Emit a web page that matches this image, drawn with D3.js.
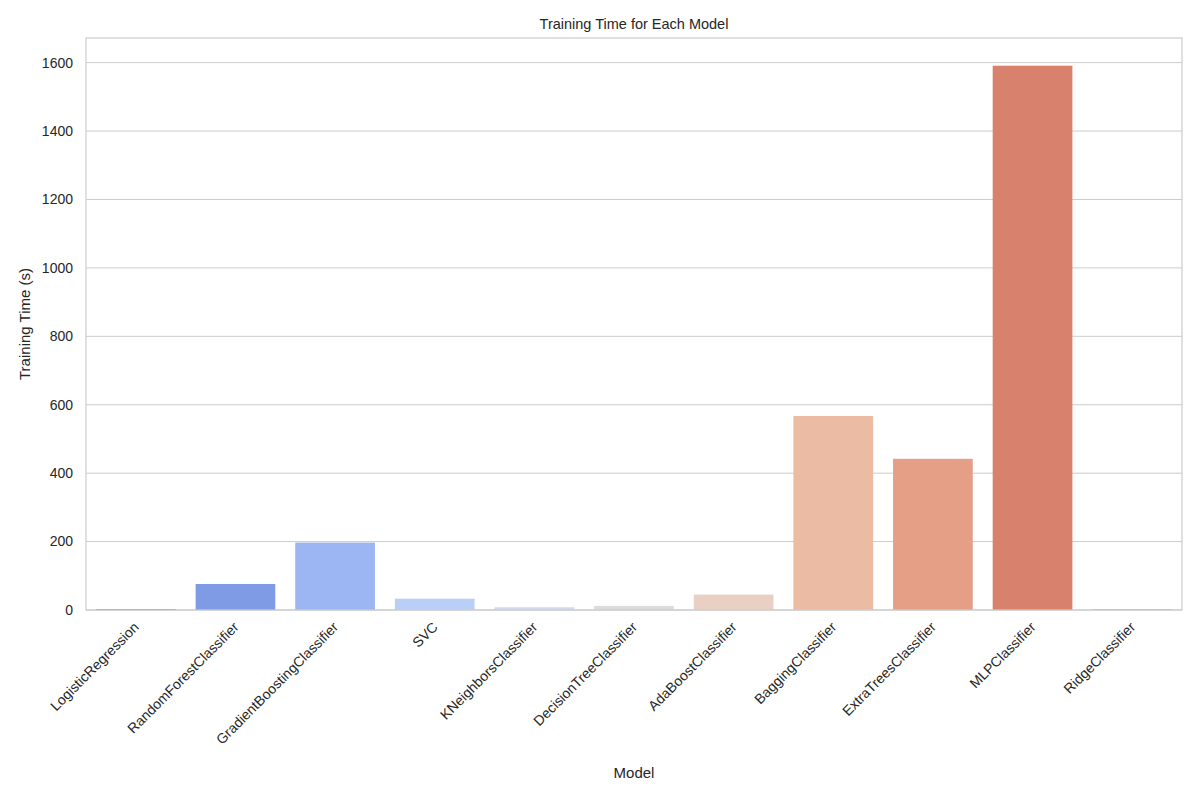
<!DOCTYPE html>
<html><head><meta charset="utf-8">
<script src="https://cdn.jsdelivr.net/npm/d3@7"></script>
<style>body{margin:0;background:#fff}text{font-family:"Liberation Sans",Arial,sans-serif;fill:#262626}</style>
</head><body><svg id="c" width="1200" height="800"></svg>
<script>
const models=["LogisticRegression","RandomForestClassifier","GradientBoostingClassifier","SVC","KNeighborsClassifier","DecisionTreeClassifier","AdaBoostClassifier","BaggingClassifier","ExtraTreesClassifier","MLPClassifier","RidgeClassifier"];
const times=[2,76,197,33,8,12,45,567,442,1591,1];
const colors=["#5b6fc4","#7f9be6","#9bb6f2","#b9cff5","#d0dbed","#dedcdb","#e9d0c3","#ecbba4","#e49f86","#d8816c","#c55a4a"];
const yTicks=[0,200,400,600,800,1000,1200,1400,1600];
const svg=d3.select("#c");
const m={l:86,r:1182,t:38,b:610};
const x=d3.scaleBand().domain(models).range([m.l,m.r]).paddingInner(0.2).paddingOuter(0.1);
const y=d3.scaleLinear().domain([0,1672]).range([m.b,m.t]);
svg.append("g").selectAll("line").data(yTicks).join("line")
 .attr("x1",m.l).attr("x2",m.r).attr("y1",d=>y(d)).attr("y2",d=>y(d)).attr("stroke","#cccccc").attr("stroke-width",1);
svg.append("g").selectAll("rect").data(models).join("rect")
 .attr("x",d=>x(d)).attr("width",x.bandwidth()).attr("y",(d,i)=>y(times[i])).attr("height",(d,i)=>m.b-y(times[i]))
 .attr("fill",(d,i)=>colors[i]);
svg.append("rect").attr("x",m.l).attr("y",m.t).attr("width",m.r-m.l).attr("height",m.b-m.t).attr("fill","none").attr("stroke","#cccccc").attr("stroke-width",1.2);
svg.append("g").selectAll("text").data(yTicks).join("text")
 .attr("x",m.l-13).attr("y",d=>y(d)).attr("dy","0.35em").attr("text-anchor","end").attr("font-size",14).text(d=>d);
svg.append("g").selectAll("text").data(models).join("text")
 .attr("transform",d=>`translate(${x(d)+x.bandwidth()/2+4},${m.b+18}) rotate(-45)`)
 .attr("text-anchor","end").attr("font-size",14).text(d=>d);
svg.append("text").attr("x",(m.l+m.r)/2).attr("y",29).attr("text-anchor","middle").attr("font-size",14.5).text("Training Time for Each Model");
svg.append("text").attr("x",(m.l+m.r)/2).attr("y",778).attr("text-anchor","middle").attr("font-size",15).text("Model");
svg.append("text").attr("transform",`translate(30,${(m.t+m.b)/2}) rotate(-90)`).attr("text-anchor","middle").attr("font-size",15).text("Training Time (s)");
</script></body></html>
